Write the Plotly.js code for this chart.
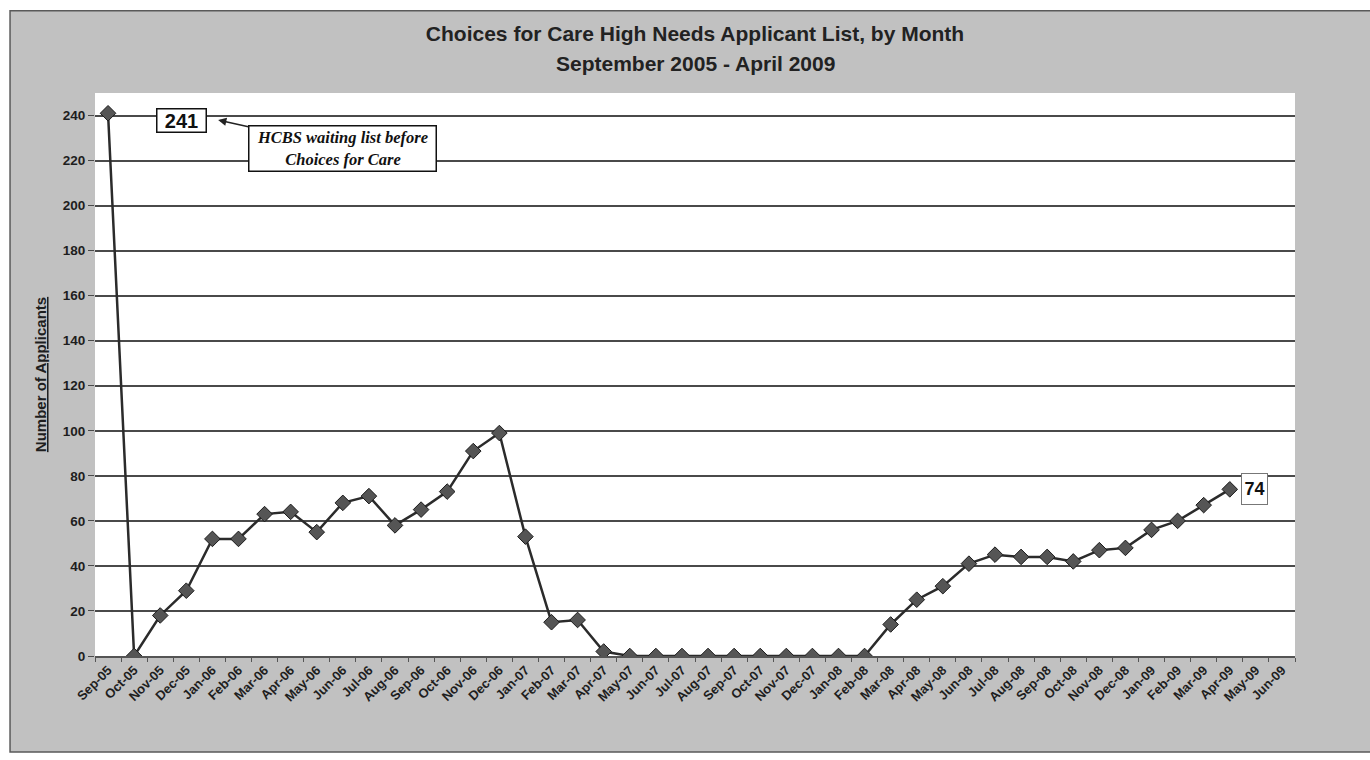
<!DOCTYPE html>
<html>
<head>
<meta charset="utf-8">
<script src="https://cdn.plot.ly/plotly-3.0.1.min.js"></script>
<style>
html,body{margin:0;padding:0;background:#ffffff;}
#chart{width:1370px;height:760px;}
</style>
</head>
<body>
<div id="chart"></div>
<script>
// Category labels (x axis)
const months = [
  'Sep-05','Oct-05','Nov-05','Dec-05','Jan-06','Feb-06','Mar-06','Apr-06','May-06','Jun-06',
  'Jul-06','Aug-06','Sep-06','Oct-06','Nov-06','Dec-06','Jan-07','Feb-07','Mar-07','Apr-07',
  'May-07','Jun-07','Jul-07','Aug-07','Sep-07','Oct-07','Nov-07','Dec-07','Jan-08','Feb-08',
  'Mar-08','Apr-08','May-08','Jun-08','Jul-08','Aug-08','Sep-08','Oct-08','Nov-08','Dec-08',
  'Jan-09','Feb-09','Mar-09','Apr-09','May-09','Jun-09'
];
// Months with data (Sep-05 .. Apr-09)
const dataMonths = months.slice(0, 44);
// Number of applicants on the list each month
const applicants = [
  241, 0, 18, 29, 52, 52, 63, 64, 55, 68,
  71, 58, 65, 73, 91, 99, 53, 15, 16, 2,
  0, 0, 0, 0, 0, 0, 0, 0, 0, 0,
  14, 25, 31, 41, 45, 44, 44, 42, 47, 48,
  56, 60, 67, 74
];
// Y axis ticks
const yTicks = [0,20,40,60,80,100,120,140,160,180,200,220,240];

const titleLine1 = 'Choices for Care High Needs Applicant List, by Month';
const titleLine2 = 'September 2005 - April 2009';
const yTitle = 'Number of Applicants';
const calloutText = 'HCBS waiting list before<br>Choices for Care';

const SANS = '"Liberation Sans", Arial, sans-serif';
const SERIF = '"Liberation Serif", "Times New Roman", serif';

const trace = {
  type: 'scatter',
  mode: 'lines+markers',
  x: dataMonths,
  y: applicants,
  line: {color: '#2b2b2b', width: 2.5},
  marker: {symbol: 'diamond', size: 12, color: '#555555', line: {color: '#1c1c1c', width: 1}},
  hoverinfo: 'x+y',
  showlegend: false
};

const firstIdx = 0;
const lastIdx = applicants.length - 1;

const layout = {
  width: 1370,
  height: 760,
  margin: {l: 95, r: 75, t: 93, b: 104},
  paper_bgcolor: '#ffffff',
  plot_bgcolor: '#ffffff',
  font: {family: SANS, color: '#1e1e1e'},
  title: {
    text: '<b>' + titleLine1 + '</b>',
    x: 0.5, xref: 'paper', xanchor: 'center',
    y: 0.9553, yref: 'container', yanchor: 'middle',
    font: {family: SANS, size: 21, color: '#222222'}
  },
  xaxis: {
    type: 'category',
    categoryorder: 'array',
    categoryarray: months,
    range: [-0.5, months.length - 0.5],
    tickvals: months,
    ticktext: months.map(m => '<b>' + m + '</b>'),
    tickangle: -45,
    tickfont: {family: SANS, size: 13, color: '#1e1e1e'},
    ticks: 'outside', ticklen: 4, tickcolor: '#555555', tickson: 'boundaries',
    showgrid: false, showline: true, linecolor: '#555555', linewidth: 1.5,
    fixedrange: true
  },
  yaxis: {
    range: [0, 250],
    tickvals: yTicks,
    ticktext: yTicks.map(v => '<b>' + v + '</b>'),
    tickfont: {family: SANS, size: 13.5, color: '#1e1e1e'},
    ticks: 'outside', ticklen: 6, tickcolor: '#4a4a4a',
    showgrid: true, gridcolor: '#4a4a4a', gridwidth: 2,
    zeroline: false, showline: false,
    title: {text: '<b><u>' + yTitle + '</u></b>', font: {family: SANS, size: 15, color: '#1e1e1e'}, standoff: 12},
    automargin: false,
    fixedrange: true
  },
  shapes: [
    {type: 'rect', xref: 'paper', yref: 'paper', layer: 'below',
     x0: -0.0708, x1: 1.065, y0: -0.1705, y1: 1.146,
     fillcolor: '#c1c1c1', line: {color: '#5a5a5a', width: 1.5}},
    {type: 'rect', xref: 'paper', yref: 'paper', layer: 'below',
     x0: 0, x1: 1, y0: 0, y1: 1,
     fillcolor: '#ffffff', line: {width: 0}}
  ],
  annotations: [
    {
      x: 0.5, y: 1.053, xref: 'paper', yref: 'paper', xanchor: 'center', yanchor: 'middle',
      text: '<b>' + titleLine2 + '</b>', showarrow: false,
      font: {family: SANS, size: 21, color: '#222222'}
    },
    {
      x: dataMonths[firstIdx], y: applicants[firstIdx], xref: 'x', yref: 'y',
      text: '<b>' + applicants[firstIdx] + '</b>', showarrow: false,
      xshift: 73, yshift: -7,
      font: {family: SANS, size: 20, color: '#111111'},
      bgcolor: '#ffffff', bordercolor: '#111111', borderwidth: 1.5, borderpad: 1,
      width: 46, height: 20
    },
    {
      x: 4.22, y: 238, xref: 'x', yref: 'y',
      text: '<b><i>' + calloutText + '</i></b>',
      showarrow: true, arrowhead: 2, arrowsize: 1.1, arrowwidth: 1.5, arrowcolor: '#222222',
      ax: 124, ay: 28, standoff: 0,
      font: {family: SERIF, size: 16.5, color: '#111111'},
      bgcolor: '#ffffff', bordercolor: '#111111', borderwidth: 1.5, borderpad: 2,
      width: 182, height: 40
    },
    {
      x: dataMonths[lastIdx], y: applicants[lastIdx], xref: 'x', yref: 'y',
      text: '<b>' + applicants[lastIdx] + '</b>', showarrow: false,
      xshift: 25, yshift: 0,
      font: {family: SANS, size: 18, color: '#111111'},
      bgcolor: '#ffffff', bordercolor: '#777777', borderwidth: 1, borderpad: 1,
      width: 23, height: 28
    }
  ]
};

Plotly.newPlot('chart', [trace], layout, {displayModeBar: false, staticPlot: true});
</script>
</body>
</html>
